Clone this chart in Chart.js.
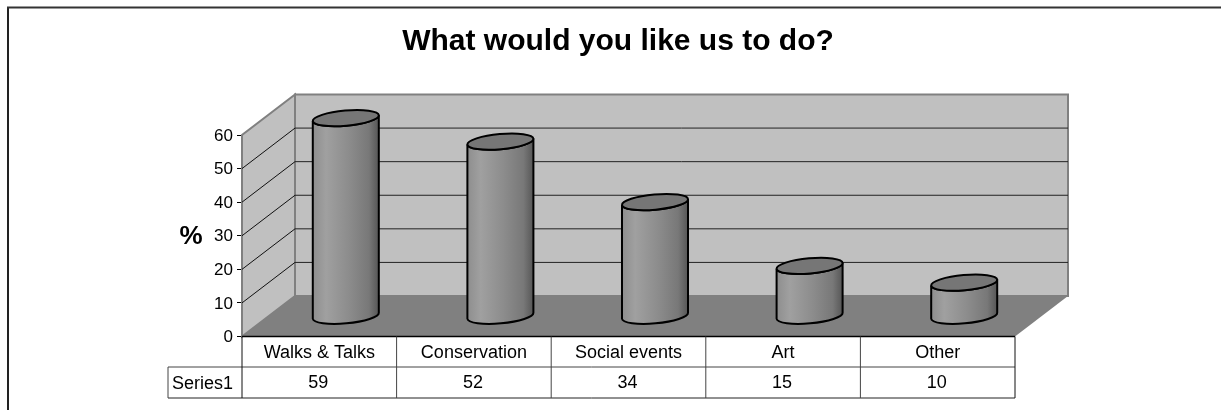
<!DOCTYPE html>
<html>
<head>
<meta charset="utf-8">
<style>
  html, body { margin: 0; padding: 0; background: #fff; }
  canvas { display: block; }
</style>
<script src="https://cdn.jsdelivr.net/npm/chart.js@4/dist/chart.umd.min.js"></script>
</head>
<body>
<canvas id="chart" width="1221" height="410"></canvas>
<script>
const chartTitle = 'What would you like us to do?';
const yAxisLabel = '%';
const seriesName = 'Series1';
const categories = ['Walks & Talks', 'Conservation', 'Social events', 'Art', 'Other'];
const values = [59, 52, 34, 15, 10];
const yMax = 60;
const yStep = 10;

const FONT = '"Liberation Sans", Arial, sans-serif';
const depthX = 53;
const depthY = 40.5;

function poly(ctx, pts, fill, stroke, width) {
    ctx.beginPath();
    pts.forEach((p, i) => i ? ctx.lineTo(p[0], p[1]) : ctx.moveTo(p[0], p[1]));
    ctx.closePath();
    if (fill) { ctx.fillStyle = fill; ctx.fill(); }
    if (stroke) { ctx.strokeStyle = stroke; ctx.lineWidth = width; ctx.stroke(); }
}

function line(ctx, x1, y1, x2, y2, color, width) {
    ctx.beginPath();
    ctx.moveTo(x1, y1);
    ctx.lineTo(x2, y2);
    ctx.strokeStyle = color;
    ctx.lineWidth = width;
    ctx.stroke();
}

// walls, floor and grid of the 3d box sit behind the bars
const boxPlugin = {
    id: 'box',
    beforeDatasetsDraw(chart) {
        const ctx = chart.ctx;
        const { left, right, top, bottom } = chart.chartArea;
        const y = chart.scales.y;
        ctx.save();
        poly(ctx, [[left, bottom], [left + depthX, bottom - depthY], [left + depthX, top - depthY], [left, top]], '#c0c0c0', '#808080', 2);
        poly(ctx, [[left + depthX, top - depthY], [right + depthX, top - depthY], [right + depthX, bottom - depthY], [left + depthX, bottom - depthY]], '#c0c0c0', '#808080', 2);
        poly(ctx, [[left, bottom], [left + depthX, bottom - depthY], [right + depthX, bottom - depthY], [right, bottom]], '#808080');
        y.ticks.forEach(t => {
            if (t.value === 0 || t.value === yMax) return;
            const py = y.getPixelForValue(t.value);
            line(ctx, left, py, left + depthX, py - depthY, '#111', 1);
            line(ctx, left + depthX, py - depthY, right + depthX, py - depthY, '#222', 1);
        });
        ctx.restore();
    }
};

// cylinders are placed from the bar elements, half way into the box
const cylinderPlugin = {
    id: 'cylinders',
    afterDatasetsDraw(chart) {
        const ctx = chart.ctx;
        const meta = chart.getDatasetMeta(0);
        const rot = -0.09;
        ctx.save();
        meta.data.forEach(bar => {
            const p = bar.getProps(['x', 'y', 'base', 'width']);
            const cx = p.x + depthX / 2;
            const topY = p.y - depthY / 2;
            const baseY = p.base - depthY / 2;
            const a = p.width / 2 / Math.cos(rot);
            const b = 7.6;
            const hw = p.width / 2;
            const tilt = a * Math.sin(rot);

            const grad = ctx.createLinearGradient(cx - hw, 0, cx + hw, 0);
            grad.addColorStop(0, '#8e8e8e');
            grad.addColorStop(0.2, '#a0a0a0');
            grad.addColorStop(0.55, '#8c8c8c');
            grad.addColorStop(0.85, '#787878');
            grad.addColorStop(1, '#565656');

            ctx.beginPath();
            ctx.moveTo(cx - hw, topY - tilt);
            ctx.lineTo(cx - hw, baseY - tilt);
            ctx.ellipse(cx, baseY, a, b, rot, Math.PI, 0, true);
            ctx.lineTo(cx + hw, topY + tilt);
            ctx.ellipse(cx, topY, a, b, rot, 0, Math.PI, false);
            ctx.closePath();
            ctx.fillStyle = grad;
            ctx.fill();
            ctx.strokeStyle = '#000';
            ctx.lineWidth = 2;
            ctx.stroke();

            ctx.beginPath();
            ctx.ellipse(cx, topY, a, b, rot, 0, Math.PI * 2);
            ctx.fillStyle = '#767676';
            ctx.fill();
            ctx.stroke();
        });
        ctx.restore();
    }
};

// data table under the plot, outer frame, title and the upright % label
const tablePlugin = {
    id: 'table',
    afterDraw(chart) {
        const ctx = chart.ctx;
        const { left, right, top, bottom } = chart.chartArea;
        const x = chart.scales.x;
        const row1 = 367;
        const row2 = 398;
        const seriesLeft = 168;
        const step = (right - left) / categories.length;
        ctx.save();

        line(ctx, 8, 7, 8, 410, '#222', 2);
        line(ctx, 7, 7.5, 1221, 7.5, '#333', 2);

        line(ctx, left, bottom, right, bottom, '#000', 1.5);
        line(ctx, seriesLeft, row1, right, row1, '#444', 1);
        line(ctx, seriesLeft, row2, right, row2, '#222', 1);
        line(ctx, seriesLeft, row1, seriesLeft, row2, '#444', 1);
        for (let i = 0; i <= categories.length; i++) {
            const px = left + step * i;
            line(ctx, px, bottom, px, row2, i === categories.length || i === 0 ? '#111' : '#444', 1);
        }

        ctx.fillStyle = '#000';
        ctx.textBaseline = 'middle';
        ctx.font = '18px ' + FONT;
        ctx.textAlign = 'left';
        ctx.fillText(seriesName, seriesLeft + 4, 384);
        ctx.textAlign = 'center';
        values.forEach((v, i) => ctx.fillText(String(v), x.getPixelForTick(i) - 1, 383));

        ctx.font = 'bold 26px ' + FONT;
        ctx.fillText(yAxisLabel, 191, (top + bottom) / 2 + 1);

        ctx.font = 'bold 30px ' + FONT;
        ctx.fillText(chartTitle, 618, 42);
        ctx.restore();
    }
};

new Chart(document.getElementById('chart'), {
    type: 'bar',
    data: {
        labels: categories,
        datasets: [{
            label: seriesName,
            data: values,
            backgroundColor: 'transparent',
            borderWidth: 0,
            barPercentage: 0.427,
            categoryPercentage: 1
        }]
    },
    options: {
        responsive: false,
        animation: false,
        layout: { padding: { top: 135, right: 206 } },
        scales: {
            x: {
                afterFit: s => { s.height = 73.5; },
                grid: { display: false, drawTicks: false },
                border: { display: false },
                ticks: { color: '#000', font: { family: FONT, size: 18 }, padding: 6, maxRotation: 0 }
            },
            y: {
                min: 0,
                max: yMax,
                afterFit: s => { s.width = 242; },
                grid: { drawOnChartArea: false, color: '#000', tickLength: 5 },
                border: { color: '#000' },
                ticks: { stepSize: yStep, color: '#000', font: { family: FONT, size: 17 }, padding: 4, labelOffset: 1 }
            }
        },
        plugins: {
            legend: { display: false },
            tooltip: { enabled: false },
            title: { display: false }
        }
    },
    plugins: [boxPlugin, cylinderPlugin, tablePlugin]
});
</script>
</body>
</html>
